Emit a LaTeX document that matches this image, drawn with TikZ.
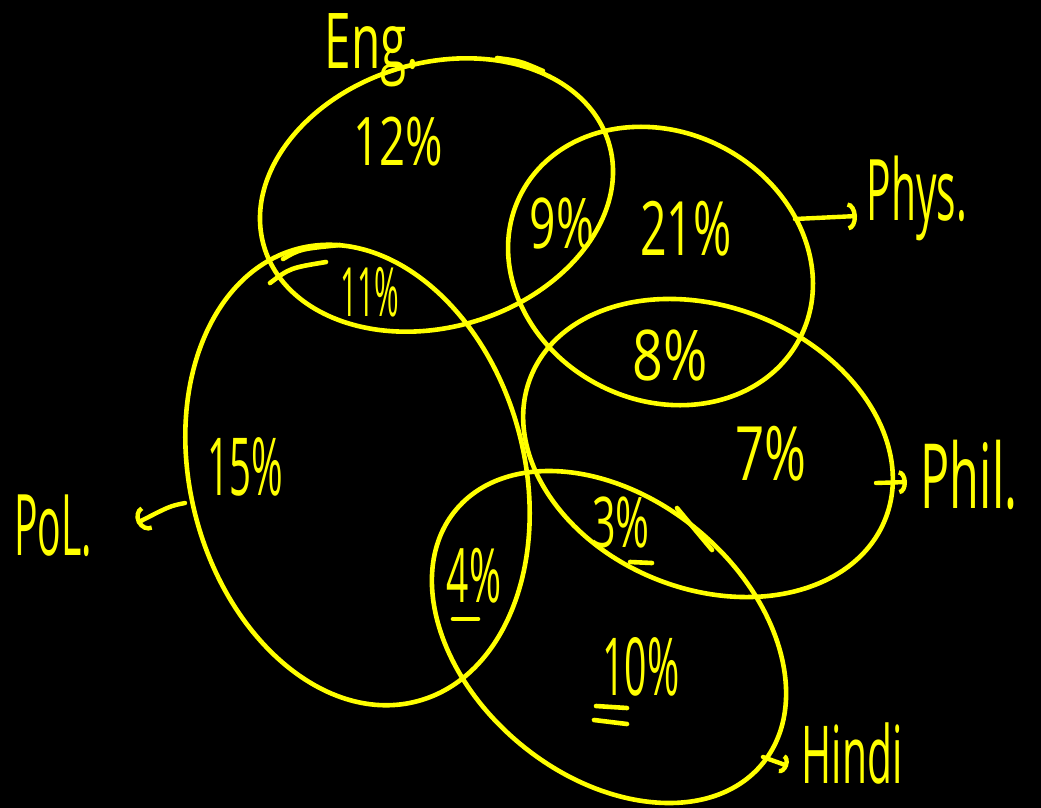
\documentclass[tikz,border=0pt]{standalone}
\usepackage{fontspec}
\setmainfont{Open Sans}
\usetikzlibrary{arrows.meta}
\definecolor{hl}{RGB}{255,255,0}
\newcommand{\hw}[3]{\scalebox{#2}[1]{\fontsize{#1}{#1}\selectfont #3}}
\begin{document}
\begin{tikzpicture}[x=1pt,y=-1pt,
  ring/.style={draw=hl, line width=4.6pt},
  pen/.style={draw=hl, line width=4.6pt, line cap=round},
  lbl/.style={text=hl, inner sep=0pt, anchor=base},
  arr/.style={draw=hl, line width=4.4pt, line cap=round, -{Arc Barb[length=9pt,width=28pt]}}]
\fill[black] (0,0) rectangle (1041,808);
\useasboundingbox (0,0) rectangle (1041,808);

% ellipses
\draw[ring, rotate around={16.8:(436.5,195)}] (436.5,195) ellipse [x radius=180pt, y radius=132pt];
\draw[ring, rotate around={-27.4:(660.5,266)}] (660.5,266) ellipse [x radius=157pt, y radius=134pt];
\draw[ring, rotate around={-22:(708,448)}] (708,448) ellipse [x radius=191pt, y radius=141pt];
\draw[ring, rotate around={-75.2:(357.5,475)}] (357.5,475) ellipse [x radius=234pt, y radius=167pt];
\draw[ring, rotate around={-39.6:(609,637)}] (609,637) ellipse [x radius=199pt, y radius=139pt];

% extra hand strokes
\draw[pen] (497,58) .. controls (520,61) .. (543,71);
\draw[pen] (283,259) .. controls (300,249) .. (340,245);
\draw[pen] (270,283) .. controls (290,268) .. (326,262);
\draw[pen] (677,508) -- (712,550);

% labels
\node[lbl] (eng) at (372,68) {\hw{77}{0.62}{Eng.}};
\node[lbl] (p12) at (398,165) {\hw{67}{0.68}{12\%}};
\node[lbl] (p9) at (562,248) {\hw{70}{0.66}{9\%}};
\node[lbl] (p21) at (686,255) {\hw{75}{0.62}{21\%}};
\node[lbl] (phys) at (917,220) {\hw{85}{0.48}{Phys.}};
\node[lbl] (p11) at (370,316) {\hw{68}{0.44}{11\%}};
\node[lbl] (p8) at (670,380) {\hw{70}{0.77}{8\%}};
\node[lbl] (p7) at (771,480) {\hw{75}{0.68}{7\%}};
\node[lbl] (phil) at (969,508) {\hw{90}{0.54}{Phil.}};
\node[lbl] (p15) at (245,495) {\hw{80}{0.48}{15\%}};
\node[lbl] (pol) at (53,555) {\hw{85}{0.46}{PoL.}};
\node[lbl] (p3) at (621,547) {\hw{70}{0.59}{3\%}};
\node[lbl] (p4) at (474,602) {\hw{75}{0.52}{4\%}};
\node[lbl] (p10) at (641,695) {\hw{80}{0.49}{10\%}};
\node[lbl] (hindi) at (852,783) {\hw{80}{0.51}{Hindi}};

% underlines
\draw[pen] (630,562) -- (652,563);
\draw[pen] (453,619) -- (478,619);
\draw[pen] (596,706) -- (627,708);
\draw[pen] (594,720) -- (627,724);

% arrows
\coordinate (physS) at (795,219);
\coordinate (physT) at (857,216);
\coordinate (philS) at (876,483);
\coordinate (philT) at (907,482);
\coordinate (polS) at (185,503);
\coordinate (polT) at (137,523);
\coordinate (hindiS) at (763,757);
\coordinate (hindiT) at (788,766);
\draw[arr] (physS) -- (physT);
\draw[arr, -{Arc Barb[length=8pt,width=24pt]}] (philS) -- (philT);
\draw[arr, -{Arc Barb[length=11pt,width=26pt]}] (polS) .. controls (170,506) .. (polT);
\draw[arr, -{Arc Barb[length=7pt,width=20pt]}] (hindiS) -- (hindiT);
\end{tikzpicture}
\end{document}
